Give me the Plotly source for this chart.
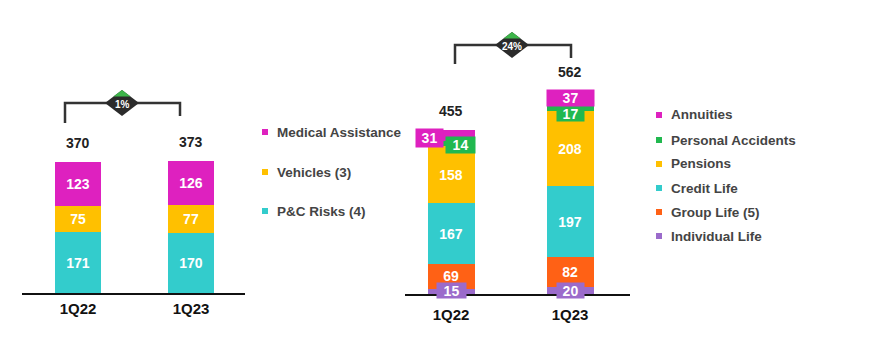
import plotly.graph_objects as go

W, H = 882, 354

# ---------------- data ----------------
categories = ["1Q22", "1Q23"]

# left chart (bottom -> top)
left_series = ["P&C Risks (4)", "Vehicles (3)", "Medical Assistance"]
pc_risks = [171, 170]
vehicles = [75, 77]
medical = [123, 126]
left_totals = [370, 373]
left_growth = "1%"

# right chart (bottom -> top)
right_series = ["Individual Life", "Group Life (5)", "Credit Life", "Pensions",
                "Personal Accidents", "Annuities"]
individual_life = [15, 20]
group_life = [69, 82]
credit_life = [167, 197]
pensions = [158, 208]
personal_accidents = [14, 17]
annuities = [31, 37]
right_totals = [455, 562]
right_growth = "24%"

# ---------------- styles ----------------
C_MAG = "#DE21BF"
C_YEL = "#FFC000"
C_TEAL = "#33CCCC"
C_GRN = "#21B84F"
C_ORG = "#FF6115"
C_PUR = "#9B6BCB"
FONT = "Liberation Sans, Arial, sans-serif"

left_colors = [C_TEAL, C_YEL, C_MAG]
right_colors = [C_PUR, C_ORG, C_TEAL, C_YEL, C_GRN, C_MAG]


def px(x):
    return x / W


def py(y):
    return 1 - y / H


fig = go.Figure()

left_vals = [pc_risks, vehicles, medical]
for name, vals, col in zip(left_series, left_vals, left_colors):
    fig.add_trace(go.Bar(
        x=categories, y=vals, name=name, marker=dict(color=col, line=dict(width=0)),
        width=0.40, text=[str(v) for v in vals], textposition="inside",
        insidetextanchor="middle", textangle=0,
        textfont=dict(color="white", size=14, family=FONT, weight="bold"),
        xaxis="x", yaxis="y", showlegend=False, hoverinfo="skip"))

right_vals = [individual_life, group_life, credit_life, pensions, personal_accidents, annuities]
boxed = {"Individual Life", "Personal Accidents", "Annuities"}
for name, vals, col in zip(right_series, right_vals, right_colors):
    fig.add_trace(go.Bar(
        x=categories, y=vals, name=name, marker=dict(color=col, line=dict(width=0)),
        width=0.395,
        text=["" if name in boxed else str(v) for v in vals], textposition="inside",
        insidetextanchor="middle", textangle=0,
        textfont=dict(color="white", size=14, family=FONT, weight="bold"),
        xaxis="x2", yaxis="y2", showlegend=False, hoverinfo="skip"))

fig.update_layout(barmode="stack")

annotations = []
shapes = []

# totals
for ci, (cat, tot) in enumerate(zip(categories, left_totals)):
    annotations.append(dict(x=cat, y=sum(v[ci] for v in left_vals),
                            xref="x", yref="y", text=f"<b>{tot}</b>", showarrow=False,
                            xanchor="center", yanchor="middle",
                            yshift=19, font=dict(size=14, color="#222", family=FONT)))
for ci, (cat, tot) in enumerate(zip(categories, right_totals)):
    annotations.append(dict(x=cat, y=sum(v[ci] for v in right_vals),
                            xref="x2", yref="y2", text=f"<b>{tot}</b>", showarrow=False,
                            xanchor="center", yanchor="middle",
                            yshift=19, font=dict(size=14, color="#222", family=FONT)))

# boxed labels on the right chart
box_cfg = {
    # (series, cat index): (xshift, yshift, width, height)
    ("Annuities", 0): (-22, -2, 27, 18),
    ("Personal Accidents", 0): (9, -1, 29, 16),
    ("Annuities", 1): (0, 0, 47, 16),
    ("Personal Accidents", 1): (0, -6, 27, 15),
    ("Individual Life", 0): (0, 1, 29, 15),
    ("Individual Life", 1): (0, 0, 27, 15),
}
for si, (name, vals, col) in enumerate(zip(right_series, right_vals, right_colors)):
    if name not in boxed:
        continue
    for ci, cat in enumerate(categories):
        below = sum(right_vals[k][ci] for k in range(si))
        mid = below + vals[ci] / 2
        xs, ys, bw, bh = box_cfg[(name, ci)]
        annotations.append(dict(x=cat, y=mid, xref="x2", yref="y2", text=f"<b>{vals[ci]}</b>",
                                showarrow=False, xshift=xs, yshift=ys, width=bw, height=bh,
                                xanchor="center", yanchor="middle",
                                bgcolor=col, borderpad=0,
                                font=dict(size=14, color="white", family=FONT)))


# brackets + diamonds
def bracket(x1, x2, ytop, y1, y2):
    path = (f"M {px(x1)},{py(y1)} L {px(x1)},{py(ytop)} L {px(x2)},{py(ytop)} "
            f"L {px(x2)},{py(y2)}")
    shapes.append(dict(type="path", xref="paper", yref="paper", path=path, layer="below",
                       line=dict(color="#333333", width=2.5)))


def diamond(cx, cy, label):
    hw, hh = 17, 13
    path = (f"M {px(cx-hw)},{py(cy)} L {px(cx)},{py(cy-hh)} L {px(cx+hw)},{py(cy)} "
            f"L {px(cx)},{py(cy+hh)} Z")
    shapes.append(dict(type="path", xref="paper", yref="paper", path=path, layer="below",
                       fillcolor="#2B2B2B", line=dict(width=0)))
    d = 6.5
    tw = hw * d / hh
    tri = (f"M {px(cx-tw)},{py(cy-hh+d)} L {px(cx)},{py(cy-hh)} L {px(cx+tw)},{py(cy-hh+d)} Z")
    shapes.append(dict(type="path", xref="paper", yref="paper", path=tri, layer="below",
                       fillcolor="#3DB54A", line=dict(width=0)))
    annotations.append(dict(x=px(cx), y=py(cy + 1.5), xref="paper", yref="paper",
                            xanchor="center", yanchor="middle",
                            text=f"<b>{label}</b>", showarrow=False,
                            font=dict(size=10, color="white", family=FONT)))


bracket(65, 180, 103, 123, 116)
diamond(122, 103, left_growth)
bracket(455, 571, 45, 64, 58)
diamond(512, 45, right_growth)


# legends (manual)
def legend(names, colors, mx, tx, ys):
    for n, c, y in zip(names, colors, ys):
        shapes.append(dict(type="rect", xref="paper", yref="paper",
                           x0=px(mx - 3), x1=px(mx + 3), y0=py(y + 3), y1=py(y - 3),
                           fillcolor=c, line=dict(width=0)))
        annotations.append(dict(x=px(tx), y=py(y), xref="paper", yref="paper",
                                xanchor="left", yanchor="middle", text=f"<b>{n}</b>",
                                showarrow=False,
                                font=dict(size=13.5, color="#444444", family=FONT)))


legend(left_series[::-1], left_colors[::-1], 265, 275, [132, 172, 211])
legend(right_series[::-1], right_colors[::-1], 659, 669, [115, 140, 164, 188, 212, 236])

axis_common = dict(showgrid=False, zeroline=False, ticks="", showline=True,
                   linecolor="#111111", linewidth=2, fixedrange=True,
                   tickfont=dict(size=15, color="#111111", family=FONT, weight="bold"))

fig.update_layout(
    width=W, height=H, margin=dict(l=0, r=0, t=0, b=0),
    paper_bgcolor="white", plot_bgcolor="rgba(0,0,0,0)",
    xaxis=dict(domain=[px(22), px(245)], range=[-0.496, 1.478], anchor="y",
               type="category", ticklabelstandoff=1, **axis_common),
    yaxis=dict(domain=[py(293), 1], range=[0, 293 / 0.355], visible=False, anchor="x"),
    xaxis2=dict(domain=[px(405), px(630)], range=[-0.387, 1.504], anchor="y2",
                type="category", ticklabelstandoff=6, **axis_common),
    yaxis2=dict(domain=[py(294), 1], range=[0, 294 / 0.361], visible=False, anchor="x2"),
    annotations=annotations, shapes=shapes, showlegend=False,
)

fig.write_html("out.html")
